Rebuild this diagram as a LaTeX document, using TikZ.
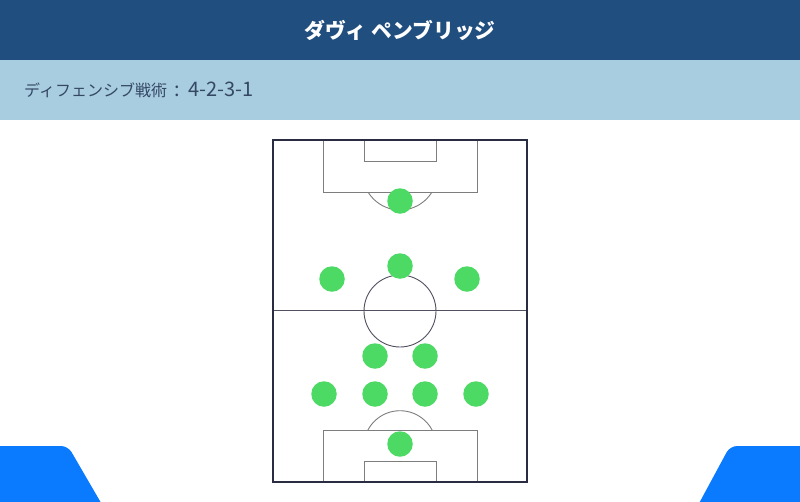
\documentclass[tikz,border=0pt]{standalone}
\usepackage{fontspec}
\setmainfont{Noto Sans CJK JP}

\definecolor{headblue}{RGB}{32,78,126}
\definecolor{bandblue}{RGB}{168,204,224}
\definecolor{subtext}{RGB}{52,72,100}
\definecolor{pitchline}{RGB}{42,44,66}
\definecolor{boxline}{RGB}{125,125,125}
\definecolor{midline}{RGB}{80,80,95}
\definecolor{playergreen}{RGB}{76,217,100}
\definecolor{tabblue}{RGB}{10,122,255}

\begin{document}
\begin{tikzpicture}[x=1pt,y=-1pt,
  player/.style={circle,fill=playergreen,minimum size=25.5pt,inner sep=0pt},
  box/.style={draw=boxline,line width=0.9pt}]
  \useasboundingbox (0,0) rectangle (800,501);
  \fill[headblue] (0,0) rectangle (800,60);
  \fill[bandblue] (0,60) rectangle (800,120);
  \node[text=white,font=\bfseries\fontsize{20.8}{24}\selectfont] (title) at (400,30) {ダヴィ ペンブリッジ};
  \node[text=subtext,anchor=base west,inner sep=0pt,font=\fontsize{16}{20}\selectfont] (tactic) at (24,96.5)
    {ディフェンシブ戦術{\fontsize{20}{24}\selectfont\hspace{2.5pt} : \hspace{2.5pt}4-2-3-1}};

  \fill[tabblue,rounded corners=7pt] (-10,520) -- (-10,446) -- (68,446) -- (111,520) -- cycle;
  \fill[tabblue,rounded corners=7pt] (810,520) -- (810,446) -- (730,446) -- (690,520) -- cycle;

  \draw[box] (323,140) rectangle (477,192);
  \draw[box] (364,140) rectangle (436,161);
  \draw[box] (323,430) rectangle (477,482);
  \draw[box] (364,461) rectangle (436,482);
  \begin{scope}
    \clip (273,192) rectangle (527,300);
    \draw[box] (400,172.6) circle[radius=37.4];
  \end{scope}
  \begin{scope}
    \clip (273,320) rectangle (527,430);
    \draw[box] (400,447) circle[radius=36.3];
  \end{scope}
  \draw[midline,line width=0.9pt] (273,310) -- (527,310);
  \draw[midline,line width=0.9pt] (400,311) circle[radius=36];
  \draw[pitchline,line width=1.4pt] (273,140) rectangle (527,482);

  \node[player] (st) at (400,201) {};
  \node[player] (lw) at (332,279) {};
  \node[player] (cam) at (400,266) {};
  \node[player] (rw) at (467,279) {};
  \node[player] (dml) at (375,356) {};
  \node[player] (dmr) at (425,356) {};
  \node[player] (lb) at (324,394) {};
  \node[player] (lcb) at (375,394) {};
  \node[player] (rcb) at (425,394) {};
  \node[player] (rb) at (476,394) {};
  \node[player] (gk) at (400,444) {};
\end{tikzpicture}
\end{document}
